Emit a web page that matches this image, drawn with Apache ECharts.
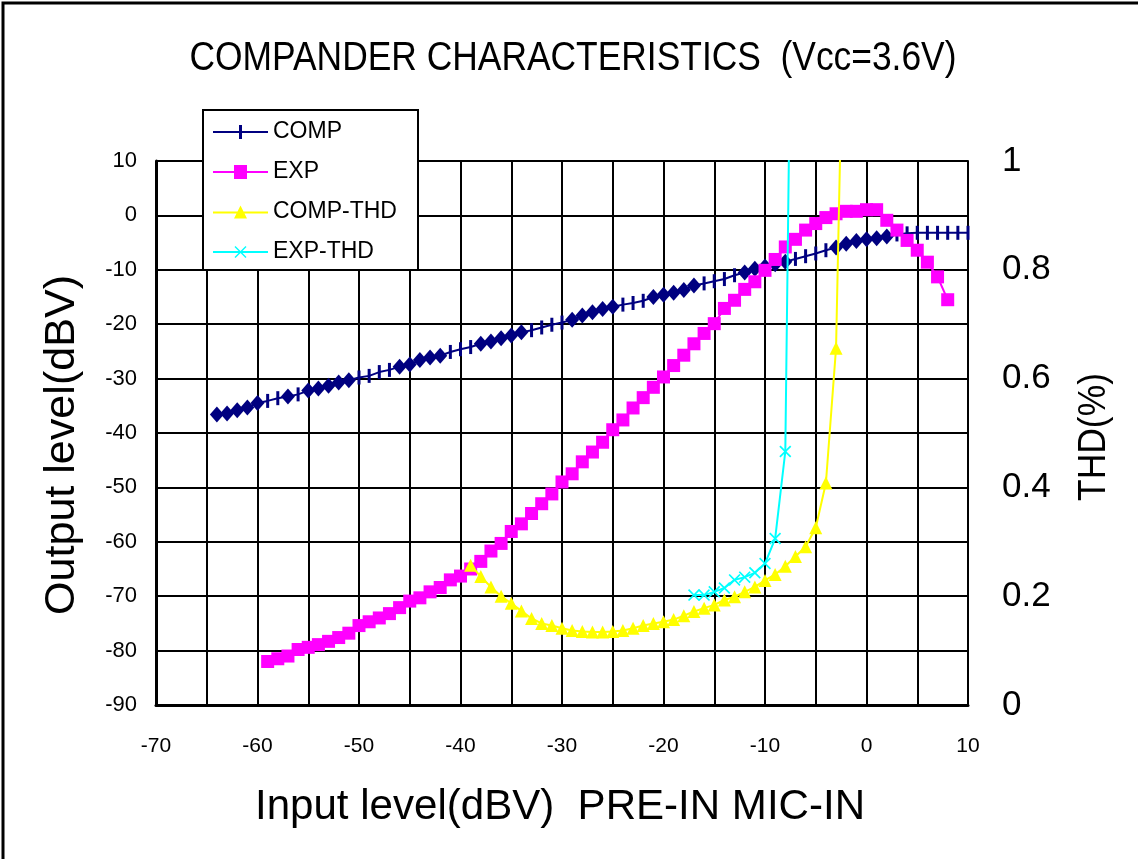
<!DOCTYPE html>
<html>
<head>
<meta charset="utf-8">
<script src="https://cdn.jsdelivr.net/npm/echarts@6/dist/echarts.min.js"></script>
<style>html,body{margin:0;padding:0;background:#fff}#c{width:1138px;height:859px}</style>
</head>
<body>
<div id="c"></div>
<script>
// ---------- texts ----------
const titleText = 'COMPANDER CHARACTERISTICS  (Vcc=3.6V)';
const xAxisTitle = 'Input level(dBV)  PRE-IN MIC-IN';
const yLeftTitle = 'Output level(dBV)';
const yRightTitle = 'THD(%)';
const seriesNames = ['COMP', 'EXP', 'COMP-THD', 'EXP-THD'];

// ---------- data ----------
// COMP: input level (dBV) -> output level (dBV)
const compInput = [-64,-63,-62,-61,-60,-59,-58,-57,-56,-55,-54,-53,-52,-51,-50,-49,-48,-47,-46,-45,
  -44,-43,-42,-41,-40,-39,-38,-37,-36,-35,-34,-33,-32,-31,-30,-29,-28,-27,-26,-25,
  -24,-23,-22,-21,-20,-19,-18,-17,-16,-15,-14,-13,-12,-11,-10,-9,-8,-7,-6,-5,
  -4,-3,-2,-1,0,1,2,3,4,5,6,7,8,9,10];
const compOutput = [-36.6,-36.4,-35.8,-35.3,-34.5,-34.1,-33.6,-33.3,-32.9,-32.2,-31.8,-31.3,-30.7,-30.3,-29.8,-29.5,-28.8,-28.4,-27.8,-27.4,
  -26.6,-26.1,-25.8,-25.1,-24.6,-24.2,-23.6,-23.2,-22.6,-22.1,-21.5,-21.1,-20.6,-20.1,-19.7,-19.2,-18.4,-17.8,-17.2,-16.8,
  -16.4,-16.1,-15.7,-15.0,-14.6,-14.2,-13.7,-12.9,-12.5,-12.1,-11.7,-11.0,-10.5,-9.8,-9.4,-9.0,-8.5,-8.0,-7.5,-7.0,
  -6.4,-5.9,-5.2,-4.7,-4.4,-4.2,-3.9,-3.5,-3.3,-3.2,-3.2,-3.2,-3.2,-3.2,-3.2];
// COMP points that are drawn with a diamond marker in the original
const compDiamondInputs = [-64,-63,-62,-61,-60,-57,-55,-54,-53,-52,-51,-46,-45,-44,-43,-42,
  -38,-37,-36,-35,-34,-29,-28,-27,-26,-25,-21,-20,-19,-18,-17,-12,-11,-10,-9,-8,-3,-2,-1,0,1,2];

// EXP
const expInput = [-59,-58,-57,-56,-55,-54,-53,-52,-51,-50,-49,-48,-47,-46,-45,-44,-43,-42,-41,-40,
  -39,-38,-37,-36,-35,-34,-33,-32,-31,-30,-29,-28,-27,-26,-25,-24,-23,-22,-21,-20,
  -19,-18,-17,-16,-15,-14,-13,-12,-11,-10,-9,-8,-7,-6,-5,-4,-3,-2,-1,0,1,2,3,4,5,6,7,8];
const expOutput = [-82.0,-81.5,-81.0,-79.8,-79.4,-78.9,-78.3,-77.6,-76.8,-75.4,-74.7,-74.0,-73.2,-72.1,-70.9,-70.3,-69.2,-68.4,-67.0,-66.3,
  -65.0,-63.6,-61.7,-60.3,-58.1,-56.7,-54.8,-53.0,-51.2,-49.0,-47.5,-45.3,-43.5,-41.7,-39.4,-37.6,-35.4,-33.5,-31.6,-29.7,
  -27.6,-25.7,-23.6,-21.7,-19.9,-17.1,-15.6,-13.6,-12.2,-10.1,-8.1,-5.8,-4.4,-2.7,-1.5,-0.4,0.3,0.75,0.75,1.05,1.05,-0.9,-2.7,-4.6,-6.4,-8.6,-11.3,-15.5];

// COMP-THD (%)
const compThdInput = [-39,-38,-37,-36,-35,-34,-33,-32,-31,-30,-29,-28,-27,-26,-25,-24,-23,-22,-21,-20,
  -19,-18,-17,-16,-15,-14,-13,-12,-11,-10,-9,-8,-7,-6,-5,-4,-3,-2];
const compThd = [0.257,0.236,0.217,0.200,0.187,0.173,0.159,0.150,0.146,0.141,0.137,0.135,0.134,0.134,0.135,0.137,0.141,0.146,0.150,0.153,
  0.157,0.164,0.172,0.178,0.184,0.193,0.199,0.208,0.217,0.229,0.240,0.255,0.273,0.291,0.326,0.408,0.656,1.55];

// EXP-THD (%)
const expThdInput = [-17,-16,-15,-14,-13,-12,-11,-10,-9,-8,-7];
const expThd = [0.202,0.202,0.208,0.215,0.230,0.235,0.243,0.260,0.306,0.466,2.0];

// ---------- chart ----------
const FONT = "'Liberation Sans', Arial, sans-serif";
const barSymbol = 'path://M0,0H2V10H0Z';
const crossSymbol = 'path://M0,1L1,0L5,4L9,0L10,1L6,5L10,9L9,10L5,6L1,10L0,9L4,5Z';
// legend icons: line + marker in a 55x14 box
const legendIcons = [
  'path://M0,6H55V8H0Z M26,0H29V14H26Z',
  'path://M0,6H55V8H0Z M21,0H34V14H21Z',
  'path://M0,6H55V8H0Z M27.5,0L34,13H21Z',
  'path://M0,6H55V8H0Z M21.5,2L22.5,1L27.5,6L32.5,1L33.5,2L28.5,7L33.5,12L32.5,13L27.5,8L22.5,13L21.5,12L26.5,7Z'
];

function fitScale(text, font, target) {
  const ctx = document.createElement('canvas').getContext('2d');
  ctx.font = font;
  const w = ctx.measureText(text).width;
  return w > 0 ? target / w : 1;
}

const diamondSet = new Set(compDiamondInputs);
const compData = compInput.map((x, i) => diamondSet.has(x)
  ? { value: [x, compOutput[i]], symbol: 'diamond', symbolSize: [14, 16] }
  : { value: [x, compOutput[i]] });
const zip = (a, b) => a.map((x, i) => [x, b[i]]);

const titleFont = '40px ' + FONT;
const xNameFont = '43px ' + FONT;
const yNameFont = '42px ' + FONT;
const thdFont = '38px ' + FONT;

const chart = echarts.init(document.getElementById('c'), null, { renderer: 'canvas' });

const option = {
  animation: false,
  backgroundColor: '#fff',
  grid: { left: 156, right: 170, top: 161, bottom: 154, containLabel: false },
  legend: {
    data: seriesNames.map((n, i) => ({ name: n, icon: legendIcons[i] })),
    orient: 'vertical',
    left: 213, top: 120,
    padding: 0,
    itemWidth: 55, itemHeight: 14, itemGap: 16,
    textStyle: { fontSize: 23, color: '#000', fontFamily: FONT, lineHeight: 24 },
    z: 6
  },
  xAxis: {
    type: 'value', min: -70, max: 10, interval: 5,
    axisLine: { show: true, onZero: false, lineStyle: { color: '#000', width: 3 } },
    axisTick: { show: false },
    splitLine: { show: true, lineStyle: { color: '#000', width: 2 } },
    axisLabel: { formatter: v => (v % 10 === 0 ? String(v) : ''), fontSize: 21, color: '#000', margin: 31, fontFamily: FONT }
  },
  yAxis: [
    {
      type: 'value', min: -90, max: 10, interval: 10, position: 'left',
      axisLine: { show: true, onZero: false, lineStyle: { color: '#000', width: 3 } },
      axisTick: { show: false },
      splitLine: { show: true, lineStyle: { color: '#000', width: 2 } },
      axisLabel: { fontSize: 22, color: '#000', margin: 19, fontFamily: FONT }
    },
    {
      type: 'value', min: 0, max: 1, interval: 0.2, position: 'right',
      axisLine: { show: true, onZero: false, lineStyle: { color: '#000', width: 2 } },
      axisTick: { show: false },
      splitLine: { show: false },
      axisLabel: { fontSize: 35, color: '#000', margin: 34, fontFamily: FONT }
    }
  ],
  series: [
    {
      name: seriesNames[0], type: 'line', data: compData, yAxisIndex: 0,
      symbol: barSymbol, symbolSize: [3, 14], showAllSymbol: true,
      lineStyle: { color: '#000080', width: 2 }, itemStyle: { color: '#000080' }, z: 2
    },
    {
      name: seriesNames[1], type: 'line', data: zip(expInput, expOutput), yAxisIndex: 0,
      symbol: 'rect', symbolSize: 13, showAllSymbol: true,
      lineStyle: { color: '#FF00FF', width: 2 }, itemStyle: { color: '#FF00FF' }, z: 3
    },
    {
      name: seriesNames[2], type: 'line', data: zip(compThdInput, compThd), yAxisIndex: 1,
      symbol: 'triangle', symbolSize: 13, showAllSymbol: true, clip: true,
      lineStyle: { color: '#FFFF00', width: 2 }, itemStyle: { color: '#FFFF00' }, z: 4
    },
    {
      name: seriesNames[3], type: 'line', data: zip(expThdInput, expThd), yAxisIndex: 1,
      symbol: crossSymbol, symbolSize: 12, showAllSymbol: true, clip: true,
      lineStyle: { color: '#00FFFF', width: 2 }, itemStyle: { color: '#00FFFF' }, z: 5
    }
  ],
  graphic: [
    { type: 'rect', silent: true, z: 0, shape: { x: 3, y: 3, width: 1400, height: 1200 },
      style: { fill: 'none', stroke: '#000', lineWidth: 3 } },
    { type: 'rect', silent: true, z: 5, shape: { x: 203, y: 110, width: 215, height: 160 },
      style: { fill: '#fff', stroke: '#000', lineWidth: 2 } },
    { type: 'text', silent: true, x: 573, y: 59, scaleX: fitScale(titleText, titleFont, 767),
      style: { text: titleText, font: titleFont, fill: '#000', textAlign: 'center', textVerticalAlign: 'middle' } },
    { type: 'text', silent: true, x: 560, y: 807, scaleX: fitScale(xAxisTitle, xNameFont, 610),
      style: { text: xAxisTitle, font: xNameFont, fill: '#000', textAlign: 'center', textVerticalAlign: 'middle' } },
    { type: 'text', silent: true, x: 62, y: 445, rotation: Math.PI / 2, scaleX: fitScale(yLeftTitle, yNameFont, 340),
      style: { text: yLeftTitle, font: yNameFont, fill: '#000', textAlign: 'center', textVerticalAlign: 'middle' } },
    { type: 'text', silent: true, x: 1095, y: 437, rotation: Math.PI / 2, scaleX: fitScale(yRightTitle, thdFont, 128),
      style: { text: yRightTitle, font: thdFont, fill: '#000', textAlign: 'center', textVerticalAlign: 'middle' } }
  ]
};
chart.setOption(option);
</script>
</body>
</html>
